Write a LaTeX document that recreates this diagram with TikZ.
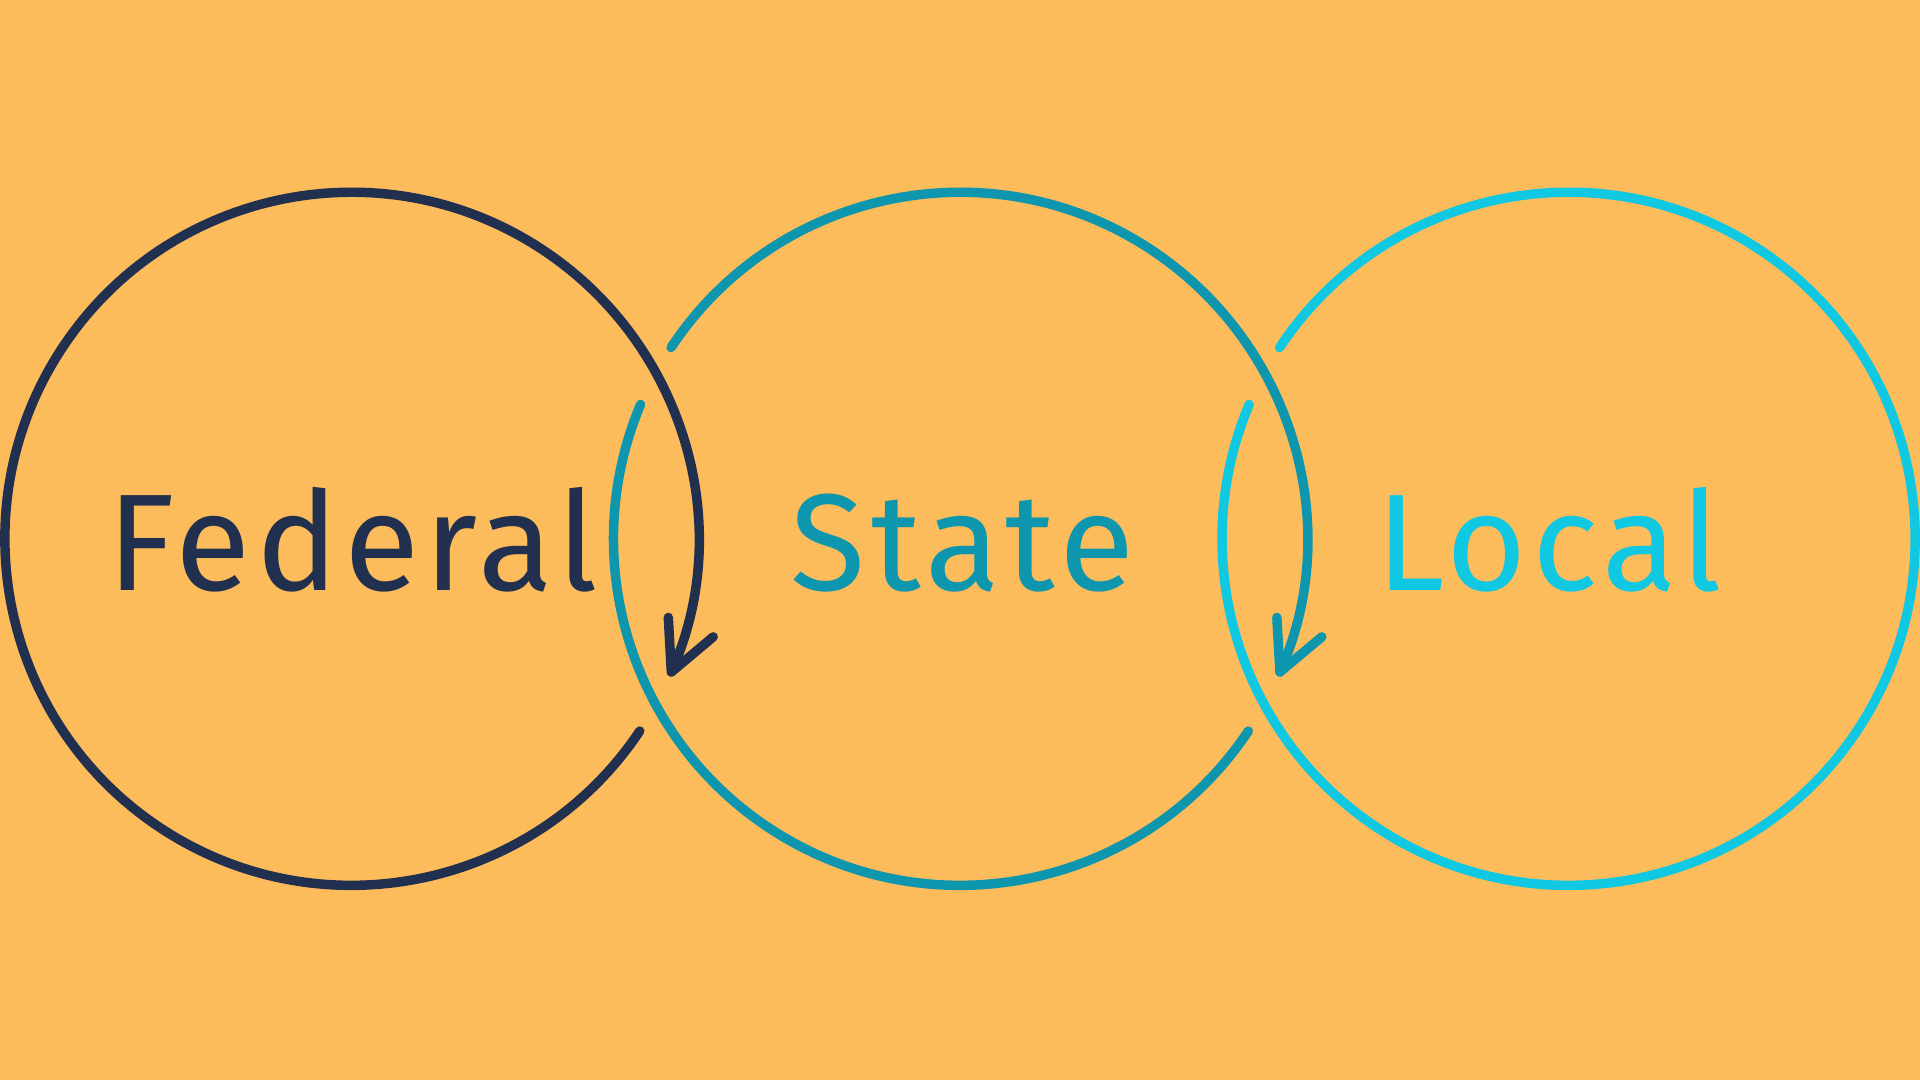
\documentclass[tikz,border=0pt]{standalone}
\usepackage{fontspec}
\setmainfont{Fira Sans}[LetterSpace=4]
\usetikzlibrary{arrows.meta}
\definecolor{bgcol}{HTML}{FDBC5B}
\definecolor{fedcol}{HTML}{22304F}
\definecolor{stacol}{HTML}{0E96AE}
\definecolor{loccol}{HTML}{11C8E2}

\begin{document}
\begin{tikzpicture}
  [every node/.style={font=\fontsize{32}{38}\selectfont,anchor=base},
   ring/.style={line width=2.2pt,line cap=round},
   tip/.style={-{Straight Barb[length=4mm,width=4mm,round]}}]
  \useasboundingbox (0,0) rectangle (15.68,8.82);
  \fill[bgcol] (0,0) rectangle (15.68,8.82);
  \coordinate (fed) at (2.87,4.42);
  \coordinate (sta) at (7.84,4.42);
  \coordinate (loc) at (12.81,4.42);

  \draw[ring,fedcol,tip] ([shift={(-33.7:2.83)}]fed) arc[start angle=-33.7,end angle=-383.4,radius=2.83];
  \draw[ring,stacol] ([shift={(-33.7:2.83)}]sta) arc[start angle=-33.7,end angle=-202.8,radius=2.83];
  \draw[ring,stacol,tip] ([shift={(146.5:2.83)}]sta) arc[start angle=146.5,end angle=-23.4,radius=2.83];
  \draw[ring,loccol] ([shift={(146.5:2.83)}]loc) arc[start angle=146.5,end angle=-202.8,radius=2.83];

  \node (tfed)[text=fedcol] at (2.88,4.00) {Federal};
  \node (tsta)[text=stacol] at (7.86,4.00) {State};
  \node (tloc)[text=loccol] at (12.65,4.00) {Local};
\end{tikzpicture}
\end{document}
